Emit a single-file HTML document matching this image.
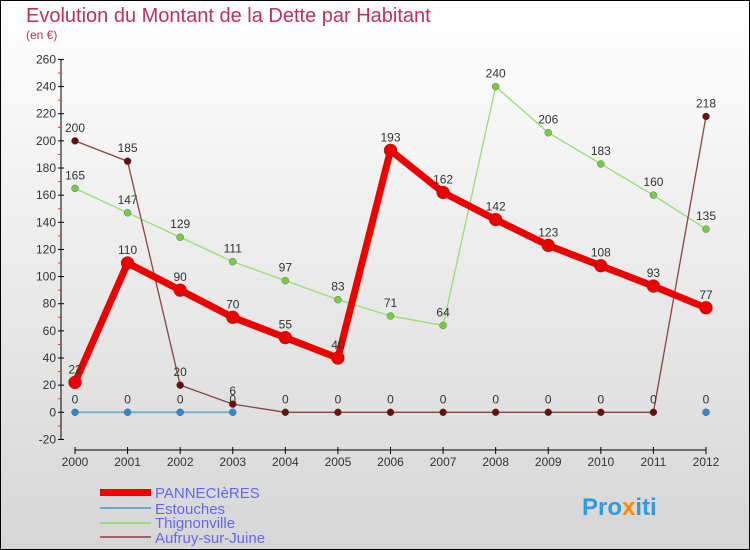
<!DOCTYPE html>
<html><head><meta charset="utf-8"><style>
body{margin:0;width:750px;height:550px;overflow:hidden;font-family:"Liberation Sans",sans-serif}
svg{display:block}
</style></head><body>
<svg id="c" width="750" height="550" xmlns="http://www.w3.org/2000/svg">
<defs><linearGradient id="bg" x1="0" y1="0" x2="0" y2="1"><stop offset="0" stop-color="#ffffff"/><stop offset="1" stop-color="#d6d6d6"/></linearGradient></defs>
<rect x="0.5" y="0.5" width="749" height="549" fill="url(#bg)" stroke="#000"/>
<text x="26" y="22" font-size="20" fill="#c0305a">Evolution du Montant de la Dette par Habitant</text>
<text x="26" y="39" font-size="12" fill="#c0305a">(en €)</text>
<g id="axes"></g><g id="series"></g>
<g>
<rect x="100" y="489" width="51" height="7" fill="#ee0000"/>
<text x="155" y="498" font-size="15" fill="#6666ee">PANNECIèRES</text>
<rect x="100" y="507" width="51" height="2" fill="#6fa6c8"/>
<text x="155" y="514" font-size="15" fill="#6666ee">Estouches</text>
<rect x="100" y="522" width="51" height="2" fill="#99dd77"/>
<text x="155" y="528" font-size="15" fill="#6666ee">Thignonville</text>
<rect x="100" y="536" width="51" height="2" fill="#996666"/>
<text x="155" y="543" font-size="15" fill="#6666ee">Aufruy-sur-Juine</text>
</g>
<text x="582" y="515" font-size="24" font-weight="bold" fill="#3399dd">Pro<tspan fill="#ff8800">x</tspan>iti</text>
</svg>
<script>
const years=[2000,2001,2002,2003,2004,2005,2006,2007,2008,2009,2010,2011,2012];
const yTicks=[-20,0,20,40,60,80,100,120,140,160,180,200,220,240,260];
const pannecieres=[22,110,90,70,55,40,193,162,142,123,108,93,77];
const estouches=[0,0,0,0,null,null,null,null,null,null,null,null,0];
const thignonville=[165,147,129,111,97,83,71,64,240,206,183,160,135];
const aufruy=[200,185,20,6,0,0,0,0,0,0,0,0,218];
const NS="http://www.w3.org/2000/svg";
const X=i=>75+i*(706-75)/12;
const Y=v=>412.3-v*380/280;
const axes=document.getElementById('axes'),ser=document.getElementById('series');
function mk(p,tag,at){const e=document.createElementNS(NS,tag);for(const k in at)e.setAttribute(k,at[k]);p.appendChild(e);return e;}
let ya=mk(axes,'line',{x1:61,y1:Y(260),x2:61,y2:Y(-20),stroke:'#000'});


yTicks.forEach(t=>{
 mk(axes,'line',{x1:58,y1:Y(t),x2:64,y2:Y(t),stroke:'#000'});
 if(t<260) mk(axes,'line',{x1:58,y1:Y(t+10),x2:61,y2:Y(t+10),stroke:'#ee3333'});
 const tx=mk(axes,'text',{x:56,y:Y(t)+4,'font-size':12,'text-anchor':'end',fill:'#333'});tx.textContent=t;
 
 
});
let xa=mk(axes,'line',{x1:75,y1:450,x2:706,y2:450,stroke:'#000'});


years.forEach((y,i)=>{
 mk(axes,'line',{x1:X(i),y1:447,x2:X(i),y2:454,stroke:'#000'});
 const tx=mk(axes,'text',{x:X(i),y:466,'font-size':12,'text-anchor':'middle',fill:'#333'});tx.textContent=y;
 
 
});
function draw(data,color,w,r,dot,name,lblFill){
 const g=mk(ser,'g',{});
 
 
 let seg=[];const segs=[];
 data.forEach((v,i)=>{if(v===null){if(seg.length)segs.push(seg);seg=[];}else seg.push(X(i)+','+Y(v));});
 if(seg.length)segs.push(seg);
 segs.forEach(s=>mk(g,'polyline',{points:s.join(' '),fill:'none',stroke:color,'stroke-width':w,'stroke-linejoin':'round'}));
 data.forEach((v,i)=>{if(v===null)return;
  const c=mk(g,'circle',{cx:X(i),cy:Y(v),r:r,fill:dot,stroke:'#333','stroke-width':0.3});
  
  
  const t=mk(g,'text',{x:X(i),y:Y(v)-9,'font-size':12,'text-anchor':'middle',fill:lblFill||'#333'});t.textContent=v;
 });
}
draw(estouches,'#7aaed0',2,3.5,'#3388cc','estouches');
draw(thignonville,'#99dd77',1.3,3.5,'#77cc44','thignonville');
draw(aufruy,'#884444',1.3,3.5,'#661111','aufruy');
draw(pannecieres,'#ee0000',7,6.5,'#ee0000','pannecieres');
</script>
</body></html>
